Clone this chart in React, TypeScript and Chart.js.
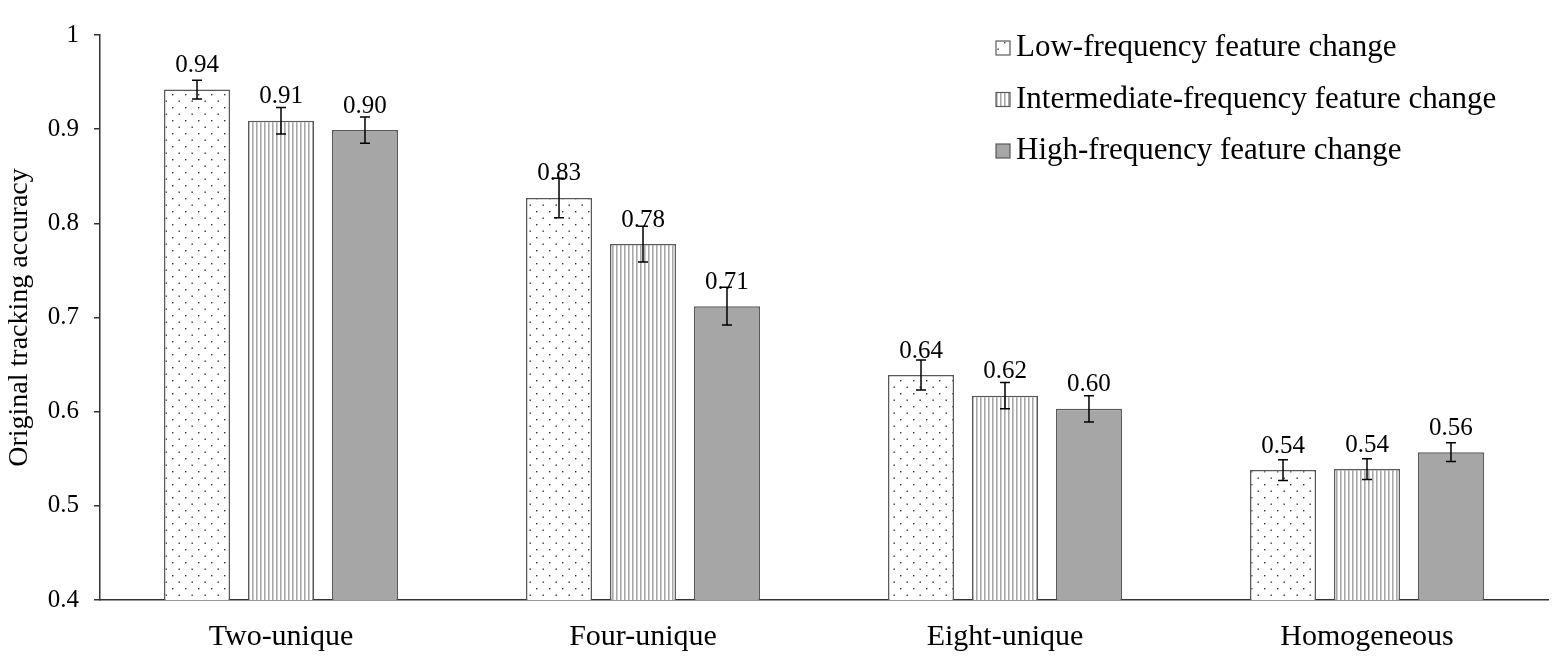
import { useEffect, useRef } from "react";
import { Chart, registerables } from "chart.js";

Chart.register(...registerables);

const categories = ["Two-unique", "Four-unique", "Eight-unique", "Homogeneous"];
const seriesNames = [
  "Low-frequency feature change",
  "Intermediate-frequency feature change",
  "High-frequency feature change",
];
const lowFreq = [0.942, 0.827, 0.639, 0.538];
const midFreq = [0.909, 0.778, 0.617, 0.539];
const highFreq = [0.899, 0.712, 0.603, 0.557];
const lowErr = [0.01, 0.021, 0.016, 0.011];
const midErr = [0.014, 0.019, 0.014, 0.011];
const highErr = [0.014, 0.02, 0.014, 0.01];

const FONT = "'Liberation Serif', 'Times New Roman', serif";

function dotPattern(ctx: CanvasRenderingContext2D) {
  const c = document.createElement("canvas");
  c.width = 13;
  c.height = 13;
  const p = c.getContext("2d")!;
  p.fillStyle = "#ffffff";
  p.fillRect(0, 0, 13, 13);
  p.fillStyle = "#333333";
  p.fillRect(3, 3, 1.4, 1.4);
  p.fillRect(9.5, 9.5, 1.4, 1.4);
  return ctx.createPattern(c, "repeat")!;
}

function stripePattern(ctx: CanvasRenderingContext2D) {
  const c = document.createElement("canvas");
  c.width = 4;
  c.height = 4;
  const p = c.getContext("2d")!;
  p.fillStyle = "#ffffff";
  p.fillRect(0, 0, 4, 4);
  p.fillStyle = "#a8a8a8";
  p.fillRect(0, 0, 1.6, 4);
  return ctx.createPattern(c, "repeat")!;
}

const App = () => {
  const canvasRef = useRef<HTMLCanvasElement | null>(null);

  useEffect(() => {
    if (!canvasRef.current) return;
    const ctx = canvasRef.current.getContext("2d");
    if (!ctx) return;

    const fills = [dotPattern(ctx), stripePattern(ctx), "#a6a6a6"];
    const errors = [lowErr, midErr, highErr];
    const values = [lowFreq, midFreq, highFreq];

    // barras de erro e rótulos de valor
    const errorBars = {
      id: "errorBars",
      afterDatasetsDraw(chart: any) {
        const c = chart.ctx;
        const y = chart.scales.y;
        c.save();
        chart.data.datasets.forEach((ds: any, i: number) => {
          const meta = chart.getDatasetMeta(i);
          meta.data.forEach((bar: any, j: number) => {
            const v = ds.data[j];
            const e = errors[i][j];
            const top = y.getPixelForValue(v + e);
            const bot = y.getPixelForValue(v - e);
            c.strokeStyle = "#000";
            c.lineWidth = 1.5;
            c.beginPath();
            c.moveTo(bar.x, top);
            c.lineTo(bar.x, bot);
            c.moveTo(bar.x - 5, top);
            c.lineTo(bar.x + 5, top);
            c.moveTo(bar.x - 5, bot);
            c.lineTo(bar.x + 5, bot);
            c.stroke();
            c.fillStyle = "#000";
            c.font = `25px ${FONT}`;
            c.textAlign = "center";
            c.textBaseline = "middle";
            c.fillText(v.toFixed(2), bar.x, bar.y - 24);
          });
        });
        c.restore();
      },
    };

    // legenda no canto superior direito
    const legendBox = {
      id: "legendBox",
      afterDraw(chart: any) {
        const c = chart.ctx;
        c.save();
        seriesNames.forEach((name, i) => {
          const cy = 48 + i * 51.5;
          c.fillStyle = fills[i];
          c.fillRect(996, cy - 7, 14, 14);
          c.strokeStyle = "#595959";
          c.lineWidth = 1.2;
          c.strokeRect(996, cy - 7, 14, 14);
          c.fillStyle = "#000";
          c.font = `31px ${FONT}`;
          c.textAlign = "left";
          c.textBaseline = "middle";
          c.fillText(name, 1016, cy);
        });
        c.restore();
      },
    };

    const myChart = new Chart(ctx, {
      type: "bar",
      data: {
        labels: categories,
        datasets: values.map((d, i) => ({
          label: seriesNames[i],
          data: d,
          backgroundColor: fills[i] as any,
          borderColor: "#595959",
          borderWidth: 1.5,
          barPercentage: 0.786,
          categoryPercentage: 0.696,
        })),
      },
      options: {
        animation: false,
        responsive: true,
        maintainAspectRatio: false,
        layout: { padding: { top: 35, right: 11, left: 0, bottom: 0 } },
        plugins: {
          legend: { display: false },
          tooltip: { enabled: false },
        },
        scales: {
          x: {
            grid: { display: false, drawTicks: false },
            border: { display: true, color: "#333", width: 1.5 },
            ticks: { color: "#000", font: { family: FONT, size: 30 }, padding: 19 },
            afterFit: (s: any) => {
              s.height = 62;
            },
          },
          y: {
            min: 0.4,
            max: 1,
            ticks: {
              stepSize: 0.1,
              color: "#000",
              font: { family: FONT, size: 25 },
              padding: 15,
              callback: (v: any) => {
                const s = Number(v).toFixed(1);
                return s === "1.0" ? "1" : s;
              },
            },
            grid: { drawOnChartArea: false, drawTicks: true, tickLength: 6, color: "#333", lineWidth: 1.5 },
            border: { display: true, color: "#333", width: 1.5 },
            title: {
              display: true,
              text: "Original tracking accuracy",
              color: "#000",
              font: { family: FONT, size: 28 },
              padding: { top: 3, bottom: 0 },
            },
            afterFit: (s: any) => {
              s.width = 100;
            },
          },
        },
      },
      plugins: [errorBars, legendBox],
    });

    return () => {
      myChart.destroy();
    };
  }, []);

  return (
    <div style={{ position: "absolute", left: 0, top: 0, width: 1559, height: 662, background: "#fff" }}>
      <canvas ref={canvasRef}></canvas>
    </div>
  );
};

export default App;
